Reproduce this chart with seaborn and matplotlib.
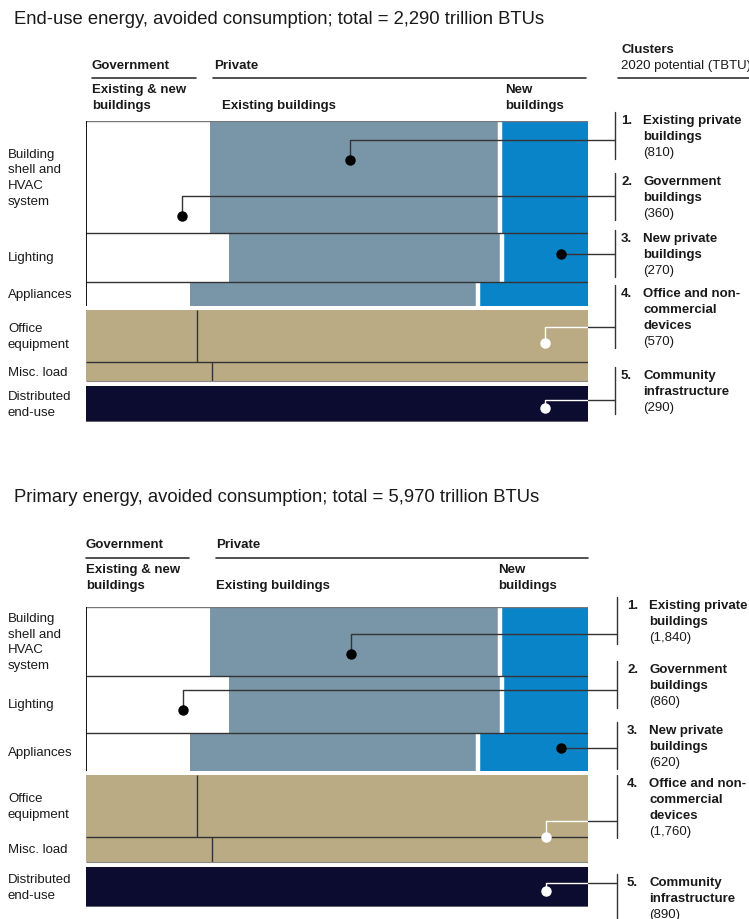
import numpy as np
import matplotlib.pyplot as plt
import matplotlib.transforms as mtransforms
import seaborn as sns

sns.set_theme(style='white')
plt.rcParams['font.family'] = ['Liberation Sans', 'DejaVu Sans']

W, H = 749, 920

rows = ['Building\nshell and\nHVAC\nsystem', 'Lighting', 'Appliances',
        'Office\nequipment', 'Misc. load', 'Distributed\nend-use']
end_use_tbtu = [880, 380, 190, 410, 150, 280]
primary_tbtu = [1415, 1170, 780, 1270, 510, 825]

# share of each row in % (government | existing private | new private | community)
gov_share = [24.7, 28.5, 20.7, 22.1, 25.1, 0]
existing_share = [57.7, 54.4, 57.3, 77.9, 74.9, 0]
new_share = [17.6, 17.1, 22.0, 0, 0, 0]
community_share = [0, 0, 0, 0, 0, 100]

cluster_names = [['Existing private', 'buildings'], ['Government', 'buildings'],
                 ['New private', 'buildings'], ['Office and non-', 'commercial', 'devices'],
                 ['Community', 'infrastructure']]
end_use_clusters = ['(810)', '(360)', '(270)', '(570)', '(290)']
primary_clusters = ['(1,840)', '(860)', '(620)', '(1,760)', '(890)']

# callouts: row, x (%), leader height and dot height as fraction of the row
end_use_callouts = [(0, 52.6, 0.17, 0.35), (0, 19.1, 0.67, 0.85), (1, 94.6, 0.43, 0.43),
                    (3, 91.4, 0.33, 0.63), (5, 91.4, 0.37, 0.60)]
primary_callouts = [(0, 52.8, 0.39, 0.68), (1, 19.3, 0.25, 0.60), (2, 94.6, 0.39, 0.39),
                    (3, 91.6, 0.74, 1.00), (5, 91.6, 0.40, 0.60)]

STEEL = '#7896A8'
BLUE = '#0A84C8'
TAN = '#BBAB85'
NAVY = '#0C0C30'
DARK = '#333333'

fig = plt.figure(figsize=(W / 100, H / 100), dpi=100)
ov = fig.add_axes([0, 0, 1, 1], zorder=5)
ov.set_xlim(0, W)
ov.set_ylim(H, 0)
ov.axis('off')


def txt(x, y, s, bold=False, size=9.5, **kw):
    ov.text(x, y, s, fontsize=size, fontweight='bold' if bold else 'normal',
            va='center', ha='left', color='#1a1a1a', **kw)


def draw_panel(title, title_y, values, clusters, callouts, top, bottom, hdr,
               first_lines, bx, num_x):
    txt(14, title_y, title, size=13.3)
    # column headers
    gx, px, hy, ly, gx1, px0, px1, sub_x, new_x = hdr
    txt(gx, hy, 'Government', bold=True)
    txt(px, hy, 'Private', bold=True)
    ov.plot([gx, gx1], [ly, ly], color=DARK, lw=1.2)
    ov.plot([px0, px1], [ly, ly], color=DARK, lw=1.2)
    txt(gx, ly + 19, 'Existing & new\nbuildings', bold=True, linespacing=1.4)
    txt(sub_x, ly + 27, 'Existing buildings', bold=True)
    txt(new_x, ly + 19, 'New\nbuildings', bold=True, linespacing=1.4)

    gaps_px = [0, 0, 4, 0, 5, 0]
    span_px = bottom - top
    scale = sum(values) / (span_px - sum(gaps_px))
    vals = np.array(values, dtype=float)
    gaps = np.array(gaps_px) * scale
    y0 = np.concatenate([[0], np.cumsum(vals + gaps)[:-1]])
    yc = y0 + vals / 2
    total = y0[-1] + vals[-1]

    ax = fig.add_axes([86 / W, 1 - bottom / H, 502 / W, span_px / H], zorder=3)
    ax.set_xlim(0, 100)
    ax.set_ylim(total, 0)
    ax.axis('off')

    g = np.array(gov_share)
    e = np.array(existing_share)
    n = np.array(new_share)
    c = np.array(community_share)
    gov_col = ['white', 'white', 'white', TAN, TAN, NAVY]
    ex_col = [STEEL, STEEL, STEEL, TAN, TAN, NAVY]
    ax.barh(yc, g, height=vals, left=0, color=gov_col, linewidth=0)
    ax.barh(yc, e, height=vals, left=g, color=ex_col, linewidth=0)
    ax.barh(yc, n, height=vals, left=g + e, color=BLUE, linewidth=0)
    ax.barh(yc, c, height=vals, left=g + e + n, color=NAVY, linewidth=0)

    # white gap between existing and new private buildings
    for i in range(3):
        ax.vlines(g[i] + e[i], y0[i], y0[i] + vals[i], color='white', lw=3.2)
    # gov / private divider for device rows
    for i in (3, 4):
        ax.vlines(g[i], y0[i], y0[i] + vals[i], color=DARK, lw=1)

    ax.hlines(0, 0, 100, color='#777777', lw=1)
    ax.hlines([y0[1], y0[2], y0[4]], 0, 100, color=DARK, lw=1)
    ax.hlines(y0[4] + vals[4], 0, 100, color='#888888', lw=0.8)
    ax.hlines(total, 0, 100, color='#777777', lw=1.2)
    ax.vlines(0, 0, y0[2] + vals[2], color='black', lw=1.3)

    # row labels
    tr = mtransforms.blended_transform_factory(ov.transData, ax.transData)
    for i, lab in enumerate(rows):
        ax.text(8, yc[i], lab, transform=tr, fontsize=9.5, va='center', ha='left',
                color='#1a1a1a', linespacing=1.4)

    # cluster labels, brackets, leaders
    bx_data = (bx - 86) / 502 * 100
    for k, (names, val) in enumerate(zip(cluster_names, clusters)):
        fy = first_lines[k]
        txt(num_x, fy, '%d.' % (k + 1), bold=True)
        for j, nm in enumerate(names):
            txt(num_x + 22, fy + 16 * j, nm, bold=True)
        last = fy + 16 * len(names)
        txt(num_x + 22, last, val)
        ov.plot([bx, bx], [fy - 8, last + 7], color=DARK, lw=1)

        r, xd, lf, df = callouts[k]
        yl = y0[r] + lf * vals[r]
        yd = y0[r] + df * vals[r]
        inner = 'white' if r >= 3 else DARK
        ax.plot([xd, xd, 100], [yd, yl, yl], color=inner, lw=1, clip_on=False, zorder=6)
        ax.plot([100, bx_data], [yl, yl], color=DARK, lw=1, clip_on=False, zorder=6)
        ax.plot(xd, yd, 'o', color='white' if r >= 3 else 'black', ms=6.5,
                clip_on=False, zorder=7)


# cluster header (top panel only)
txt(621, 50, 'Clusters', bold=True)
txt(621, 66, '2020 potential (TBTU)')
ov.plot([618, W], [79, 79], color=DARK, lw=1.2)

draw_panel('End-use energy, avoided consumption; total = 2,290 trillion BTUs', 20,
           end_use_tbtu, end_use_clusters, end_use_callouts, 122, 423,
           (92, 214, 66, 79, 196, 213, 586, 222, 505), [121, 182, 239, 294, 376],
           615, 621)
draw_panel('Primary energy, avoided consumption; total = 5,970 trillion BTUs', 498,
           primary_tbtu, primary_clusters, primary_callouts, 608, 908,
           (86, 216, 545, 559, 189, 216, 588, 216, 498), [606, 670, 731, 784, 883],
           617, 627)

fig.savefig('out.png', dpi=100, facecolor='white')
